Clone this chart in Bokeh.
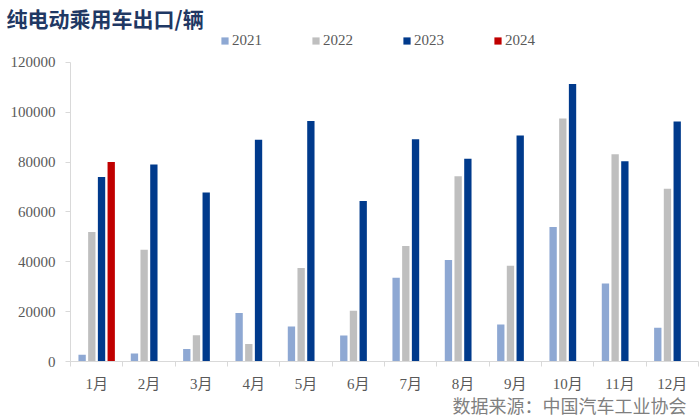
from bokeh.plotting import figure
from bokeh.models import (ColumnDataSource, Range1d, FixedTicker, Legend, LegendItem,
                          Title, BasicTickFormatter)
from bokeh.transform import dodge
from bokeh.embed import file_html
from bokeh.resources import INLINE

months = ["1月", "2月", "3月", "4月", "5月", "6月", "7月", "8月", "9月", "10月", "11月", "12月"]
y2021 = [2700, 3200, 5000, 19500, 14000, 10400, 33600, 40700, 14800, 54000, 31300, 13500]
y2022 = [52000, 44800, 10500, 7000, 37500, 20400, 46300, 74300, 38400, 97500, 83200, 69300]
y2023 = [74000, 79000, 67800, 89000, 96500, 64400, 89200, 81300, 90700, 111300, 80300, 96300]
y2024 = [80000] + [float("nan")] * 11
series_names = ["2021", "2022", "2023", "2024"]
colors = ["#8EA8D3", "#BFBFBF", "#003A8C", "#C00000"]
y_ticks = [0, 20000, 40000, 60000, 80000, 100000, 120000]

idx = list(range(len(months)))
src = ColumnDataSource(dict(x=idx, y2021=y2021, y2022=y2022, y2023=y2023, y2024=y2024))

SERIF = "'Liberation Serif', 'Noto Sans CJK SC'"

p = figure(width=700, height=420, x_range=Range1d(-0.5, 11.5), y_range=Range1d(0, 132000),
           output_backend="svg", toolbar_location=None,
           min_border_left=70, min_border_right=2, min_border_top=30, min_border_bottom=59)
p.outline_line_color = None
p.xgrid.grid_line_color = None
p.ygrid.grid_line_color = None

p.title.text = "纯电动乘用车出口/辆"
p.title.text_font = "Noto Sans CJK SC"
p.title.text_font_style = "bold"
p.title.text_font_size = "21px"
p.title.text_color = "#1F3864"
p.title.offset = -64
p.title.standoff = 0

offsets = [-0.278, -0.093, 0.093, 0.278]
fields = ["y2021", "y2022", "y2023", "y2024"]
renderers = []
for f, off, c in zip(fields, offsets, colors):
    r = p.vbar(x=dodge("x", off), top=f, width=0.14, source=src, fill_color=c, line_color=None)
    renderers.append(r)

legend = Legend(items=[LegendItem(label=n, renderers=[r]) for n, r in zip(series_names, renderers)],
                orientation="horizontal", location=(150, 312),
                glyph_width=9, glyph_height=9, label_standoff=3, spacing=49,
                label_text_font=SERIF, label_text_font_size="15px", label_text_color="#595959",
                border_line_color=None, background_fill_alpha=0, padding=2, margin=0)
p.add_layout(legend, "center")

# y axis
p.yaxis.ticker = FixedTicker(ticks=y_ticks)
p.yaxis.bounds = (0, 120000)
p.yaxis.formatter = BasicTickFormatter(use_scientific=False)
p.yaxis.axis_line_color = "#D9D9D9"
p.yaxis.major_tick_line_color = "#D9D9D9"
p.yaxis.major_tick_out = 5
p.yaxis.major_tick_in = 0
p.yaxis.minor_tick_line_color = None
p.yaxis.major_label_text_font = SERIF
p.yaxis.major_label_text_font_size = "15px"
p.yaxis.major_label_text_color = "#595959"
p.yaxis.major_label_standoff = 10

# x axis
p.xaxis.ticker = FixedTicker(ticks=idx, minor_ticks=[i - 0.5 for i in range(len(months) + 1)])
p.xaxis.major_label_overrides = {i: m for i, m in enumerate(months)}
p.xaxis.axis_line_color = "#D9D9D9"
p.xaxis.major_tick_line_color = None
p.xaxis.major_tick_out = 0
p.xaxis.major_tick_in = 0
p.xaxis.minor_tick_line_color = "#D9D9D9"
p.xaxis.minor_tick_out = 5
p.xaxis.minor_tick_in = 0
p.xaxis.major_label_text_font = SERIF
p.xaxis.major_label_text_font_size = "15px"
p.xaxis.major_label_text_color = "#595959"
p.xaxis.major_label_standoff = 9

src_title = Title(text="数据来源：中国汽车工业协会", align="right", text_font=SERIF,
                  text_font_size="18px", text_font_style="normal", text_color="#7F7F7F",
                  standoff=0, offset=12)
p.add_layout(src_title, "below")

html = file_html(p, INLINE)
open("out.html", "w").write(html)
